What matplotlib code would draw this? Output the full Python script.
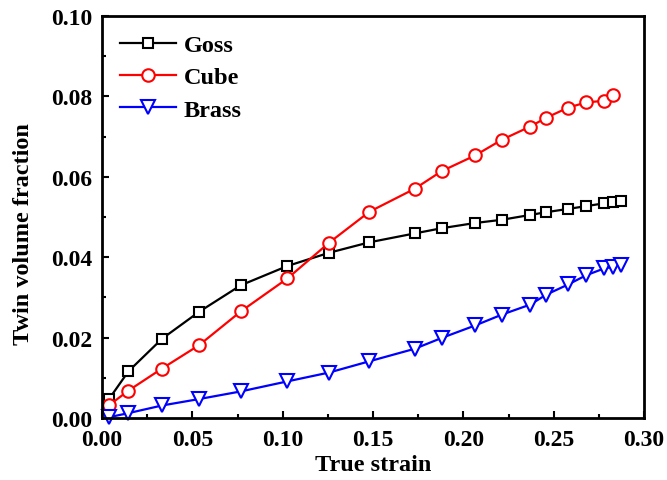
import matplotlib
matplotlib.use("Agg")
import matplotlib.pyplot as plt
from matplotlib.ticker import MultipleLocator

plt.rcParams['font.family'] = ['Liberation Serif', 'DejaVu Serif']
plt.rcParams['font.weight'] = 'bold'

goss_x = [0.004, 0.0146, 0.0332, 0.0537, 0.0768, 0.1026, 0.1257, 0.148, 0.173, 0.188,
          0.2065, 0.2213, 0.237, 0.246, 0.258, 0.268, 0.278, 0.2828, 0.2872]
goss_y = [0.0048, 0.0116, 0.0197, 0.0264, 0.0330, 0.0378, 0.0411, 0.0437, 0.0459, 0.0472,
          0.0485, 0.0493, 0.0505, 0.0512, 0.0520, 0.0527, 0.0534, 0.0537, 0.0539]

cube_x = [0.004, 0.0146, 0.0332, 0.0537, 0.0768, 0.1026, 0.1257, 0.148, 0.173, 0.188,
          0.2065, 0.2213, 0.237, 0.246, 0.258, 0.268, 0.278, 0.2828]
cube_y = [0.0032, 0.0068, 0.0123, 0.0181, 0.0265, 0.0347, 0.0436, 0.0513, 0.0570, 0.0614,
          0.0653, 0.0692, 0.0725, 0.0747, 0.0772, 0.0785, 0.0789, 0.0803]

brass_x = [0.004, 0.0146, 0.0332, 0.0537, 0.0768, 0.1026, 0.1257, 0.148, 0.173, 0.188,
           0.2065, 0.2213, 0.237, 0.246, 0.258, 0.268, 0.278, 0.2828, 0.2872]
brass_y = [0.0002, 0.0012, 0.0031, 0.0047, 0.0066, 0.0091, 0.0113, 0.0141, 0.0172, 0.0199,
           0.0230, 0.0257, 0.0282, 0.0307, 0.0332, 0.0355, 0.0372, 0.0376, 0.0380]

fig = plt.figure(figsize=(6.67, 4.81), dpi=100)
ax = fig.add_axes([0.153, 0.129, 0.8125, 0.8357])

ax.plot(goss_x, goss_y, color='black', marker='s', markersize=7.5, markerfacecolor='white',
        markeredgewidth=1.5, linewidth=1.6, label='Goss', clip_on=False)
ax.plot(cube_x, cube_y, color='red', marker='o', markersize=9, markerfacecolor='white',
        markeredgewidth=1.5, linewidth=1.6, label='Cube', clip_on=False)
ax.plot(brass_x, brass_y, color='blue', marker='v', markersize=9.5, markerfacecolor='white',
        markeredgewidth=1.5, linewidth=1.6, label='Brass', clip_on=False)

ax.set_xlim(0, 0.30)
ax.set_ylim(0, 0.10)
ax.xaxis.set_major_locator(MultipleLocator(0.05))
ax.xaxis.set_minor_locator(MultipleLocator(0.025))
ax.yaxis.set_major_locator(MultipleLocator(0.02))
ax.yaxis.set_minor_locator(MultipleLocator(0.01))
ax.xaxis.set_major_formatter(plt.FormatStrFormatter('%.2f'))
ax.yaxis.set_major_formatter(plt.FormatStrFormatter('%.2f'))
ax.tick_params(which='both', direction='in', top=False, right=False, width=1.5, labelsize=17)
ax.tick_params(which='major', length=5)
ax.tick_params(which='minor', length=3)
ax.tick_params(axis='y', which='major', pad=7)
ax.tick_params(axis='x', which='major', pad=8)
for s in ax.spines.values():
    s.set_linewidth(2)

ax.set_xlabel('True strain', fontsize=17.5, fontweight='bold', labelpad=3)
ax.set_ylabel('Twin volume fraction', fontsize=17.5, fontweight='bold')
ax.yaxis.set_label_coords(-0.125, 0.46)

leg = ax.legend(loc='upper left', frameon=False, handlelength=2.3,
                handletextpad=0.3, labelspacing=0.42, borderaxespad=0.35,
                prop={'weight': 'bold', 'size': 17.5})

fig.savefig('out.png', dpi=100)
